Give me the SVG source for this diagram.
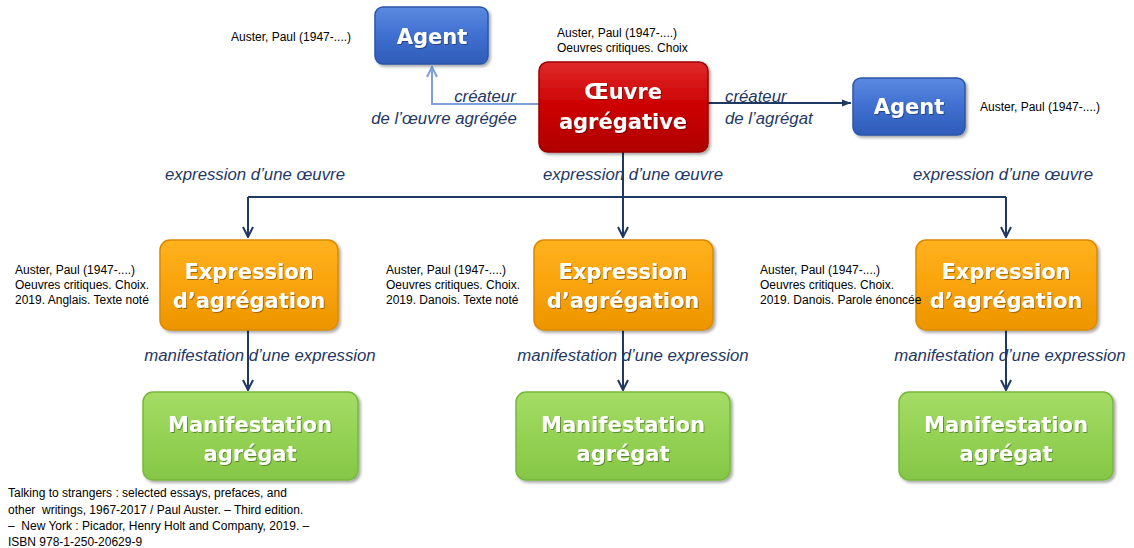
<svg xmlns="http://www.w3.org/2000/svg" width="1134" height="548" viewBox="0 0 1134 548">
<defs>
<linearGradient id="gBlue" x1="0" y1="0" x2="0" y2="1"><stop offset="0" stop-color="#5b8ae0"/><stop offset="0.5" stop-color="#3f6fd0"/><stop offset="1" stop-color="#2f5cb8"/></linearGradient>
<linearGradient id="gRed" x1="0" y1="0" x2="0" y2="1"><stop offset="0" stop-color="#e02a2a"/><stop offset="0.5" stop-color="#cc0000"/><stop offset="1" stop-color="#b00000"/></linearGradient>
<linearGradient id="gOrange" x1="0" y1="0" x2="0" y2="1"><stop offset="0" stop-color="#ffb21f"/><stop offset="0.5" stop-color="#f9a30c"/><stop offset="1" stop-color="#ec9500"/></linearGradient>
<linearGradient id="gGreen" x1="0" y1="0" x2="0" y2="1"><stop offset="0" stop-color="#a5dc66"/><stop offset="0.5" stop-color="#94d254"/><stop offset="1" stop-color="#86c646"/></linearGradient>
<filter id="sh" x="-10%" y="-10%" width="125%" height="130%"><feDropShadow dx="2" dy="2" stdDeviation="1.5" flood-color="#000" flood-opacity="0.35"/></filter>
<filter id="tsh" x="-10%" y="-10%" width="120%" height="130%"><feDropShadow dx="1" dy="1" stdDeviation="0.6" flood-color="#000" flood-opacity="0.35"/></filter>
<marker id="open" viewBox="0 0 12 12" refX="11" refY="6" markerWidth="12" markerHeight="12" markerUnits="userSpaceOnUse" orient="auto"><path d="M1,1 L11,6 L1,11" fill="none" stroke="#1f3864" stroke-width="2"/></marker>
<marker id="openL" viewBox="0 0 12 12" refX="11" refY="6" markerWidth="12" markerHeight="12" markerUnits="userSpaceOnUse" orient="auto"><path d="M1,1 L11,6 L1,11" fill="none" stroke="#7f9fdb" stroke-width="2"/></marker>
<marker id="fill" viewBox="0 0 10 10" refX="10" refY="5" markerWidth="10" markerHeight="9" markerUnits="userSpaceOnUse" orient="auto"><path d="M0,1 L10,5 L0,9 Z" fill="#1f3864"/></marker>
</defs>
<style>
.box{filter:url(#sh)}
.blue{fill:url(#gBlue);stroke:#2b56a8;stroke-width:1.5}
.red{fill:url(#gRed);stroke:#9a0000;stroke-width:1.5}
.orange{fill:url(#gOrange);stroke:#d98a00;stroke-width:1.5}
.green{fill:url(#gGreen);stroke:#78b83c;stroke-width:1.5}
.nt{font-family:"DejaVu Sans",sans-serif;font-weight:700;font-size:21px;fill:#fff;text-anchor:middle;filter:url(#tsh)}
.lbl{font-family:"Liberation Sans",Arial,sans-serif;font-style:italic;font-size:16.8px;fill:#1f3864}
.sm{font-family:"Liberation Sans",Arial,sans-serif;font-size:12px;fill:#000}
.ln{fill:none;stroke:#1f3864;stroke-width:2}
</style>
<g id="connectors">
<path class="ln" d="M539,104 H432 V67" style="stroke:#7f9fdb" marker-end="url(#openL)"/>
<path class="ln" d="M708,103 H851" marker-end="url(#fill)"/>
<path class="ln" d="M623,152 V237"  marker-end="url(#open)"/>
<path class="ln" d="M248,197 H1006"/>
<path class="ln" d="M248,197 V237" marker-end="url(#open)"/>
<path class="ln" d="M1006,197 V237" marker-end="url(#open)"/>
<path class="ln" d="M248,330 V390" marker-end="url(#open)"/>
<path class="ln" d="M623,330 V390" marker-end="url(#open)"/>
<path class="ln" d="M1006,330 V390" marker-end="url(#open)"/>
<text class="lbl" x="485" y="102" text-anchor="middle">créateur</text>
<text class="lbl" x="444" y="124" text-anchor="middle">de l’œuvre agrégée</text>
<text class="lbl" x="725" y="102">créateur</text>
<text class="lbl" x="725" y="124">de l’agrégat</text>
<text class="lbl" x="255" y="180" text-anchor="middle">expression d’une œuvre</text>
<text class="lbl" x="633" y="180" text-anchor="middle">expression d’une œuvre</text>
<text class="lbl" x="1003" y="180" text-anchor="middle">expression d’une œuvre</text>
<text class="lbl" x="260" y="361" text-anchor="middle">manifestation d’une expression</text>
<text class="lbl" x="633" y="361" text-anchor="middle">manifestation d’une expression</text>
<text class="lbl" x="1010" y="361" text-anchor="middle">manifestation d’une expression</text>
</g>
<g id="agent1">
<rect class="box blue" x="375" y="7" width="113" height="57" rx="8"/>
<text class="nt" x="432" y="44">Agent</text>
<text class="sm" x="231" y="41">Auster, Paul (1947-....)</text>
</g>
<g id="oeuvre">
<rect class="box red" x="539" y="62" width="169" height="90" rx="9"/>
<text class="nt" x="623" y="99">Œuvre</text>
<text class="nt" x="623" y="129">agrégative</text>
<text class="sm" x="557" y="37">Auster, Paul (1947-....)</text>
<text class="sm" x="557" y="52">Oeuvres critiques. Choix</text>
</g>
<g id="agent2">
<rect class="box blue" x="853" y="78" width="112" height="57" rx="8"/>
<text class="nt" x="909" y="114">Agent</text>
<text class="sm" x="980" y="111">Auster, Paul (1947-....)</text>
</g>
<g id="expr1">
<rect class="box orange" x="160" y="240" width="178" height="90" rx="10"/>
<text class="nt" x="249" y="279">Expression</text>
<text class="nt" x="249" y="308">d’agrégation</text>
<text class="sm" x="15" y="274">Auster, Paul (1947-....)</text>
<text class="sm" x="15" y="289">Oeuvres critiques. Choix.</text>
<text class="sm" x="15" y="304">2019. Anglais. Texte noté</text>
</g>
<g id="expr2">
<rect class="box orange" x="534" y="240" width="179" height="90" rx="10"/>
<text class="nt" x="623" y="279">Expression</text>
<text class="nt" x="623" y="308">d’agrégation</text>
<text class="sm" x="386" y="274">Auster, Paul (1947-....)</text>
<text class="sm" x="386" y="289">Oeuvres critiques. Choix.</text>
<text class="sm" x="386" y="304">2019. Danois. Texte noté</text>
</g>
<g id="expr3">
<rect class="box orange" x="916" y="240" width="181" height="90" rx="10"/>
<text class="nt" x="1006" y="279">Expression</text>
<text class="nt" x="1006" y="308">d’agrégation</text>
<text class="sm" x="760" y="274">Auster, Paul (1947-....)</text>
<text class="sm" x="760" y="289">Oeuvres critiques. Choix.</text>
<text class="sm" x="760" y="304">2019. Danois. Parole énoncée</text>
</g>
<g id="manif1">
<rect class="box green" x="143" y="392" width="215" height="88" rx="10"/>
<text class="nt" x="250" y="432">Manifestation</text>
<text class="nt" x="250" y="461">agrégat</text>
<text class="sm" x="8" y="497">Talking to strangers : selected essays, prefaces, and</text>
<text class="sm" x="8" y="514" xml:space="preserve">other  writings, 1967-2017 / Paul Auster. – Third edition.</text>
<text class="sm" x="8" y="530" xml:space="preserve">–  New York : Picador, Henry Holt and Company, 2019. –</text>
<text class="sm" x="8" y="546">ISBN 978-1-250-20629-9</text>
</g>
<g id="manif2">
<rect class="box green" x="516" y="392" width="214" height="88" rx="10"/>
<text class="nt" x="623" y="432">Manifestation</text>
<text class="nt" x="623" y="461">agrégat</text>
</g>
<g id="manif3">
<rect class="box green" x="899" y="392" width="214" height="88" rx="10"/>
<text class="nt" x="1006" y="432">Manifestation</text>
<text class="nt" x="1006" y="461">agrégat</text>
</g>
</svg>
